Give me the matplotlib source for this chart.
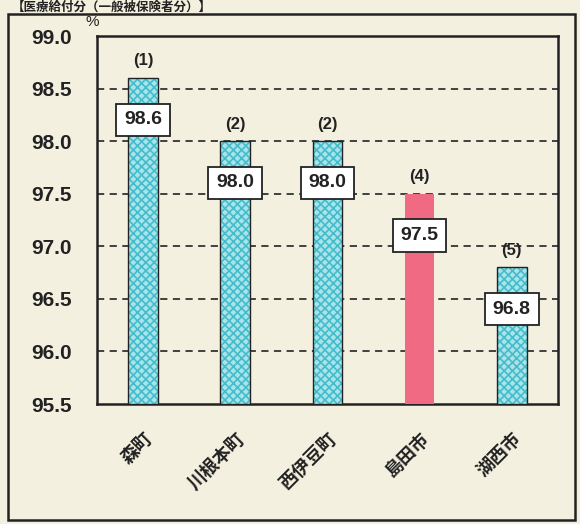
import matplotlib.pyplot as plt
from matplotlib.patches import Rectangle

plt.rcParams["font.family"] = ["Noto Sans CJK JP", "DejaVu Sans"]
plt.rcParams["hatch.linewidth"] = 1.2

##
## === DATA
##

towns = ["森町", "川根本町", "西伊豆町", "島田市", "湖西市"]
rates = [98.6, 98.0, 98.0, 97.5, 96.8]
ranks = ["(1)", "(2)", "(2)", "(4)", "(5)"]
highlight = "島田市"
y_ticks = [95.5, 96.0, 96.5, 97.0, 97.5, 98.0, 98.5, 99.0]
title = "【医療給付分（一般被保険者分）】"

##
## === STYLE
##

paper = "#f4f0e0"
blue_face = "#a8e4ea"
blue_hatch = "#45bccb"
pink = "#f06a84"
ink = "#222222"
num_font = ["Liberation Sans", "DejaVu Sans"]

##
## === MAIN
##


def main() -> None:
    fig = plt.figure(figsize=(5.8, 5.24), dpi=100, facecolor=paper)
    ax = fig.add_axes([0.167, 0.229, 0.795, 0.702])
    ax.set_facecolor(paper)

    # outer frame of the panel
    fig.patches.append(Rectangle(
        (8 / 580, 4 / 524), 567 / 580, 506 / 524,
        transform=fig.transFigure, fill=False, edgecolor=ink, linewidth=1.8,
    ))
    fig.text(0.02, 0.998, title, fontsize=9, fontweight="bold", color=ink,
             ha="left", va="top")

    x_pos = list(range(len(towns)))
    width = 0.32
    for x, town, rate in zip(x_pos, towns, rates):
        height = rate - y_ticks[0]
        if town == highlight:
            ax.bar(x, height, bottom=y_ticks[0], width=width, color=pink,
                   edgecolor="none", zorder=3)
        else:
            ax.bar(x, height, bottom=y_ticks[0], width=width, color=blue_face,
                   edgecolor=blue_hatch, hatch="xxxx", linewidth=0, zorder=3)
            ax.bar(x, height, bottom=y_ticks[0], width=width, fill=False,
                   edgecolor=ink, linewidth=1.0, zorder=3)

    for x, rate, rank in zip(x_pos, rates, ranks):
        ax.annotate(rank, (x, rate), xytext=(0, 7), textcoords="offset points",
                    ha="center", va="bottom", fontsize=12, fontweight="bold",
                    color=ink, family=num_font, zorder=5)
        ax.annotate(f"{rate:.1f}", (x, rate), xytext=(0, -30),
                    textcoords="offset points", ha="center", va="center",
                    fontsize=14, fontweight="bold", color=ink,
                    family=num_font, zorder=5,
                    bbox=dict(boxstyle="square,pad=0.4", facecolor="white",
                              edgecolor=ink, linewidth=1.3))

    ax.set_xlim(-0.5, len(towns) - 0.5)
    ax.set_ylim(y_ticks[0], y_ticks[-1])
    ax.set_yticks(y_ticks)
    ax.set_yticklabels([f"{v:.1f}" for v in y_ticks], fontsize=15,
                       fontweight="bold", color=ink, family=num_font)
    ax.set_xticks(x_pos)
    ax.set_xticklabels(towns, rotation=45, ha="right", va="top",
                       rotation_mode="anchor", fontsize=13, fontweight="bold",
                       color=ink)
    ax.tick_params(axis="y", length=0, pad=18)
    ax.tick_params(axis="x", length=0, pad=18)

    for v in y_ticks[1:-1]:
        ax.axhline(v, color="#333333", linestyle=(0, (4, 3)), linewidth=1.3,
                   zorder=1)
    for spine in ax.spines.values():
        spine.set_color(ink)
        spine.set_linewidth(1.8)

    fig.text(0.148, 0.958, "%", fontsize=11, color=ink, ha="left",
             va="center", family=num_font)

    fig.savefig("out.png", dpi=100, facecolor=paper)


if __name__ == "__main__":
    main()
